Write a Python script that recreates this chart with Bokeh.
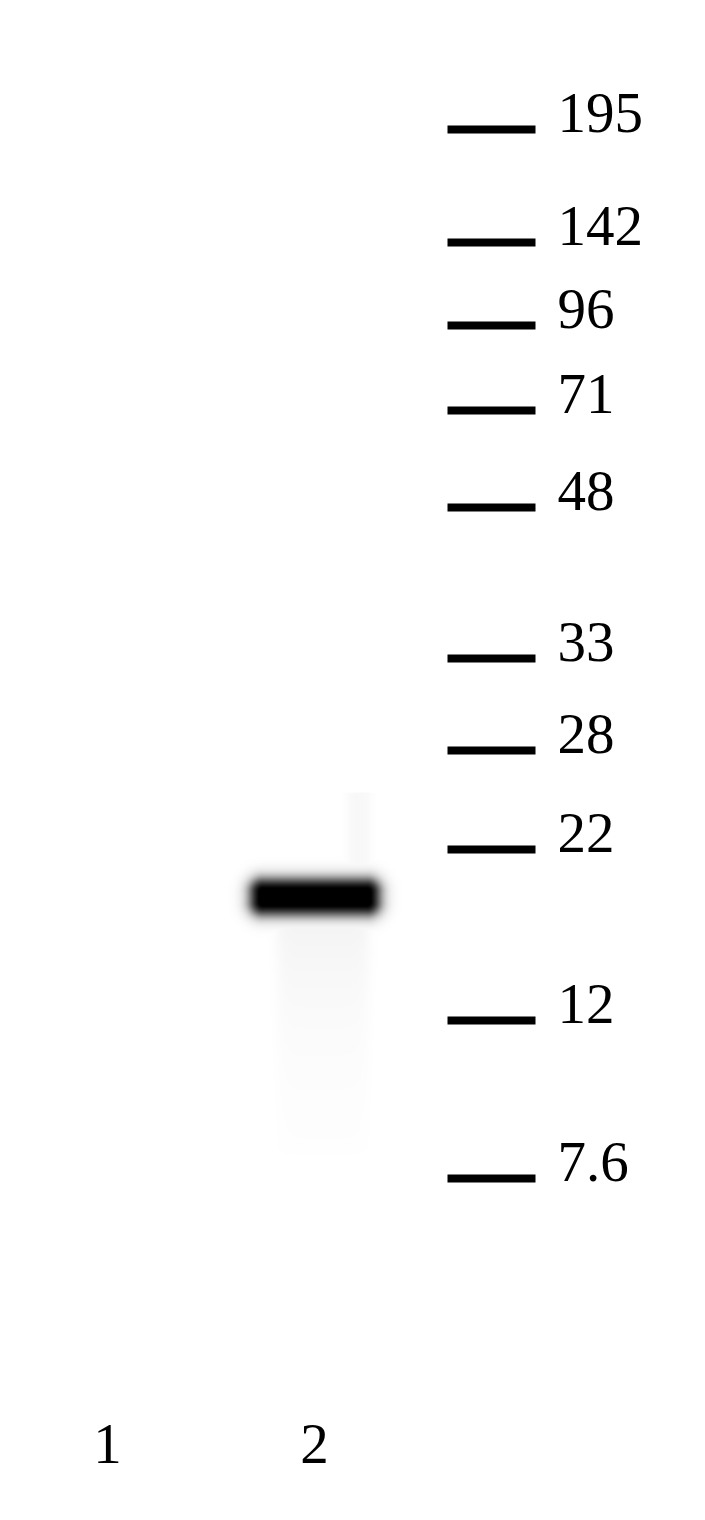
import numpy as np
from bokeh.plotting import figure
from bokeh.models import Range1d, ColumnDataSource
from bokeh.core.properties import value
from bokeh.embed import file_html
from bokeh.resources import INLINE

# ---- data ----
marker_labels = ["195", "142", "96", "71", "48", "33", "28", "22", "12", "7.6"]
marker_migration = [129, 242, 325, 410, 507, 658, 750, 849, 1020, 1178]
lane_labels = ["1", "2"]
lane_centers = [107, 314]
band_migration = [np.nan, 896]
band_intensity = [0.0, 1.0]

# ---- figure ----
W, H = 689, 1504
p = figure(width=W, height=H, x_range=Range1d(0, W), y_range=Range1d(H, 0),
           output_backend="svg", toolbar_location=None, min_border=0)
p.axis.visible = False
p.grid.visible = False
p.outline_line_color = None
p.background_fill_color = "white"
p.border_fill_color = "white"

# marker ladder ticks
msrc = ColumnDataSource(dict(y=marker_migration, label=marker_labels,
                             ty=[m - 17 for m in marker_migration]))
p.segment(x0=447, x1=535, y0="y", y1="y", source=msrc, line_color="black",
          line_width=8, line_cap="butt")
p.text(x=557, y="ty", text="label", source=msrc, text_font=value("Liberation Serif"),
       text_font_size="57px", text_baseline="alphabetic", text_align="left",
       text_color="black")

# band images
x0, y0, bw, bh = 200, 770, 230, 400
yy, xx = np.mgrid[0:bh, 0:bw]
for lc, mig, inten in zip(lane_centers, band_migration, band_intensity):
    if inten <= 0 or np.isnan(mig):
        continue
    px = xx + x0
    py = yy + y0
    dx = np.maximum(np.abs(px - lc) - 52, 0)
    dy = np.maximum(np.abs(py - mig) - 5, 0)
    d = np.sqrt(dx ** 2 + dy ** 2)
    core = inten / (1 + np.exp((d - 12) / 4.2))
    core = np.clip(core * 1.15, 0, 1)
    # faint trail below the band
    tx = 1 / (1 + np.exp((np.abs(px - (lc + 8)) - 46) / 4))
    ty = np.clip((py - mig) / 30, 0, 1) * np.exp(-np.clip(py - mig - 20, 0, None) / 120)
    ty = np.where(py < mig + 250, ty, ty * np.exp(-(py - mig - 250) / 15))
    trail = 0.05 * tx * ty
    # faint streak above the band on the right side
    sx = 1 / (1 + np.exp((np.abs(px - (lc + 44)) - 12) / 3))
    sy = np.where((py > mig - 105) & (py < mig), 1.0, 0.0)
    streak = 0.03 * sx * sy
    a = np.clip(np.maximum(core, trail + streak), 0, 1)
    img = np.zeros((bh, bw), dtype=np.uint32)
    view = img.view(dtype=np.uint8).reshape((bh, bw, 4))
    view[:, :, 3] = (a * 255).astype(np.uint8)
    p.image_rgba(image=[img], x=x0, y=y0, dw=bw, dh=bh)

# lane labels
lsrc = ColumnDataSource(dict(x=lane_centers, label=lane_labels))
p.text(x="x", y=1443, text="label", source=lsrc, text_font=value("Liberation Serif"),
       text_font_size="57px", text_baseline="alphabetic", text_align="center",
       text_color="black")

open("out.html", "w").write(file_html(p, INLINE))
